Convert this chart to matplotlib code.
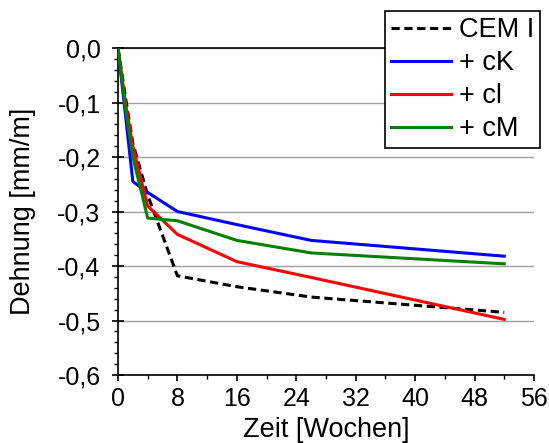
import matplotlib
matplotlib.use("Agg")
import matplotlib.pyplot as plt
from matplotlib.ticker import MultipleLocator, FuncFormatter

plt.rcParams['font.family'] = ['Liberation Sans', 'DejaVu Sans']

weeks = [0, 1, 2, 4, 8, 16, 26, 52]
cem_i = [0.0, -0.09, -0.175, -0.27, -0.418, -0.438, -0.457, -0.485]
plus_ck = [0.0, -0.122, -0.245, -0.265, -0.300, -0.324, -0.353, -0.382]
plus_cl = [0.0, -0.10, -0.18, -0.29, -0.342, -0.392, -0.421, -0.498]
plus_cm = [0.0, -0.11, -0.20, -0.312, -0.317, -0.353, -0.376, -0.396]

series_labels = ["CEM I", "+ cK", "+ cl", "+ cM"]

tick_fs = 18
label_fs = 19.5
legend_fs = 19.5

fig = plt.figure(figsize=(5.49, 4.43), dpi=100)
ax = fig.add_axes([0.2149, 0.1535, 0.7577, 0.7381])

lw = 2.2
ax.plot(weeks, cem_i, color="black", lw=lw, ls=(0, (2.7, 1.5)), label=series_labels[0], zorder=3)
ax.plot(weeks, plus_ck, color="#0000ff", lw=lw, label=series_labels[1], zorder=3)
ax.plot(weeks, plus_cl, color="#ff0000", lw=lw, label=series_labels[2], zorder=3)
ax.plot(weeks, plus_cm, color="#008000", lw=lw, label=series_labels[3], zorder=3)

ax.set_xlim(0, 56)
ax.set_ylim(-0.6, 0.0)
ax.xaxis.set_major_locator(MultipleLocator(8))
ax.xaxis.set_minor_locator(MultipleLocator(4))
ax.yaxis.set_major_locator(MultipleLocator(0.1))
ax.yaxis.set_minor_locator(MultipleLocator(0.02))
ax.yaxis.set_major_formatter(FuncFormatter(lambda v, p: f"{v:.1f}".replace(".", ",").replace("−", "-").replace("-0,0", "0,0")))

ax.grid(axis="y", which="major", color="#a0a0a0", lw=1.0)
ax.set_axisbelow(True)
ax.spines["right"].set_visible(False)
for s in ("left", "bottom", "top"):
    ax.spines[s].set_linewidth(1.2)
    ax.spines[s].set_color("black")

ax.tick_params(axis="y", which="major", labelsize=tick_fs, direction="inout", length=9, width=1.2, pad=8)
ax.tick_params(axis="y", which="minor", direction="out", length=3, width=1.0)
ax.tick_params(axis="x", which="major", labelsize=tick_fs, direction="out", length=4, width=1.2, pad=5)
ax.tick_params(axis="x", which="minor", direction="out", length=3, width=1.0)

ax.set_xlabel("Zeit [Wochen]", fontsize=label_fs)
ax.set_ylabel("Dehnung [mm/m]", fontsize=label_fs)
ax.xaxis.set_label_coords(0.5, -0.127)
ax.yaxis.set_label_coords(-0.197, 0.5)

leg = ax.legend(loc="upper left", bbox_to_anchor=(0.642, 1.113), fontsize=legend_fs,
                frameon=True, fancybox=False, framealpha=1, edgecolor="black",
                handlelength=2.2, handletextpad=0.3, labelspacing=0.26, borderpad=0.22,
                borderaxespad=0)
leg.get_frame().set_linewidth(1.2)

fig.savefig("out.png", dpi=100)
